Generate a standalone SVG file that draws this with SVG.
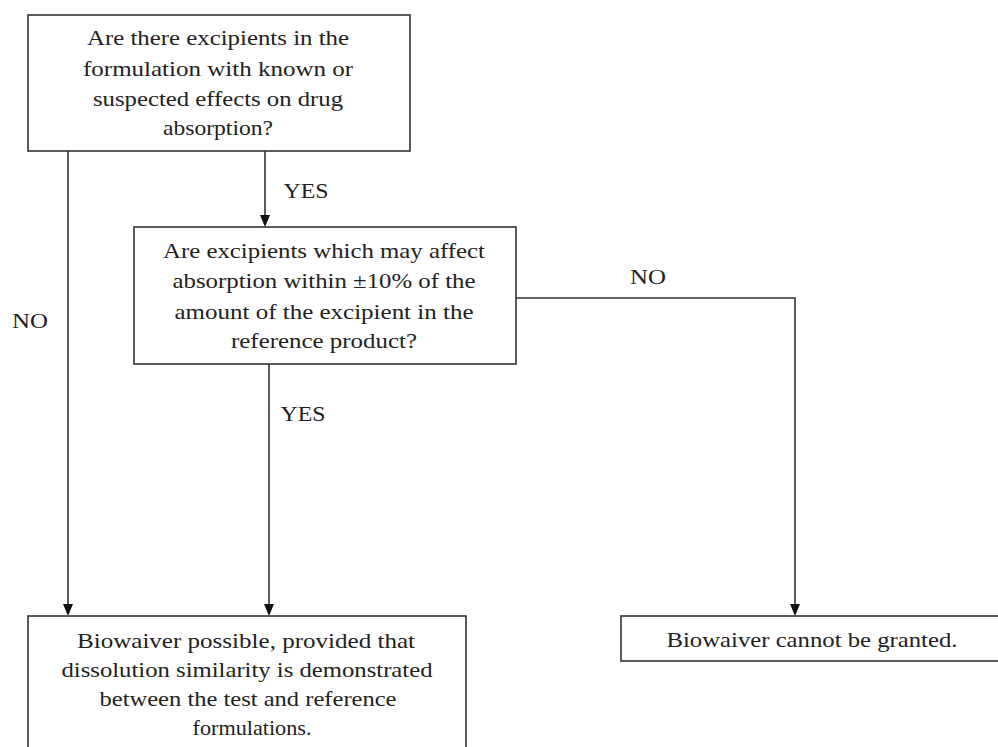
<svg xmlns="http://www.w3.org/2000/svg" width="998" height="747" viewBox="0 0 998 747">
<style>
.box{fill:#fff;stroke:#333;stroke-width:1.6}
.t{font-family:'Liberation Serif',Tinos,'Times New Roman',Times,serif;font-size:21px;fill:#222;text-anchor:middle}
.c{fill:none;stroke:#333;stroke-width:1.6}
.ah{fill:#111}
</style>
<rect width="998" height="747" fill="#fff"/>
<g id="connectors">
<path class="c" d="M68,151 V605"/>
<path class="c" d="M265,151 V216"/>
<path class="c" d="M269,364 V605"/>
<path class="c" d="M516,298 H795 V605"/>
<path class="ah" d="M260,215 L270,215 L265,227 Z"/>
<path class="ah" d="M63,604 L73,604 L68,616 Z"/>
<path class="ah" d="M264,604 L274,604 L269,616 Z"/>
<path class="ah" d="M790,604 L800,604 L795,616 Z"/>
<text class="t" x="306" y="198" textLength="45" lengthAdjust="spacingAndGlyphs">YES</text>
<text class="t" x="30" y="328" textLength="36" lengthAdjust="spacingAndGlyphs">NO</text>
<text class="t" x="303" y="421" textLength="45" lengthAdjust="spacingAndGlyphs">YES</text>
<text class="t" x="648" y="284" textLength="36" lengthAdjust="spacingAndGlyphs">NO</text>
</g>
<g id="q1">
<rect class="box" x="28" y="15" width="382" height="136"/>
<text class="t" x="218" y="45" textLength="262" lengthAdjust="spacingAndGlyphs">Are there excipients in the</text>
<text class="t" x="218" y="76" textLength="270" lengthAdjust="spacingAndGlyphs">formulation with known or</text>
<text class="t" x="218" y="106" textLength="250" lengthAdjust="spacingAndGlyphs">suspected effects on drug</text>
<text class="t" x="218" y="135" textLength="110" lengthAdjust="spacingAndGlyphs">absorption?</text>
</g>
<g id="q2">
<rect class="box" x="134" y="227" width="382" height="137"/>
<text class="t" x="324" y="258" textLength="322" lengthAdjust="spacingAndGlyphs">Are excipients which may affect</text>
<text class="t" x="324" y="288" textLength="303" lengthAdjust="spacingAndGlyphs">absorption within ±10% of the</text>
<text class="t" x="324" y="319" textLength="299" lengthAdjust="spacingAndGlyphs">amount of the excipient in the</text>
<text class="t" x="324" y="348" textLength="186" lengthAdjust="spacingAndGlyphs">reference product?</text>
</g>
<g id="possible">
<rect class="box" x="28" y="616" width="438" height="140"/>
<text class="t" x="246" y="648" textLength="338" lengthAdjust="spacingAndGlyphs">Biowaiver possible, provided that</text>
<text class="t" x="247" y="677" textLength="371" lengthAdjust="spacingAndGlyphs">dissolution similarity is demonstrated</text>
<text class="t" x="248" y="706" textLength="297" lengthAdjust="spacingAndGlyphs">between the test and reference</text>
<text class="t" x="252" y="735" textLength="119" lengthAdjust="spacingAndGlyphs">formulations.</text>
</g>
<g id="denied">
<rect class="box" x="621" y="616" width="400" height="45"/>
<text class="t" x="812" y="647" textLength="291" lengthAdjust="spacingAndGlyphs">Biowaiver cannot be granted.</text>
</g>
</svg>
